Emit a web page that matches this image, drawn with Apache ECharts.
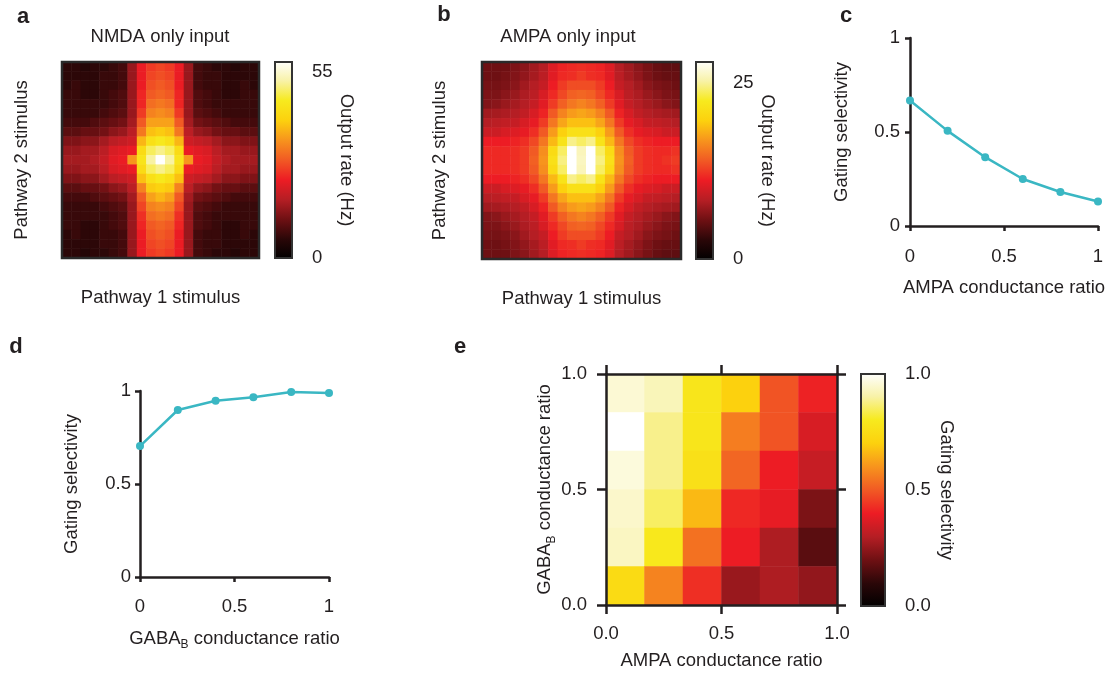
<!DOCTYPE html>
<html>
<head>
<meta charset="utf-8">
<script src="https://cdn.jsdelivr.net/npm/echarts@6/dist/echarts.min.js"></script>
<style>
  html, body { margin: 0; padding: 0; background: #fff; }
  #chart { width: 1112px; height: 678px; }
</style>
</head>
<body>
<div id="chart"></div>
<script>
// ---- data ----
// panel a: NMDA only input, output rate (Hz), rows top -> bottom (pathway 2), cols left -> right (pathway 1)
var nmdaRate = [
  [6,6,5,6,6,7,8,15,23,26,27,26,23,15,8,7,6,6,5,6,6],
  [6,6,6,6,7,7,8,15,23,27,28,27,23,15,8,7,7,6,6,6,6],
  [6,7,6,6,7,7,8,15,23,28,29,28,23,15,8,7,7,6,6,7,6],
  [7,7,6,6,7,8,9,15,24,29,30,29,24,15,9,8,7,6,6,7,7],
  [7,7,7,7,7,8,9,15,24,31,32,31,24,15,9,8,7,7,7,7,7],
  [7,7,7,7,8,9,10,15,26,33,34,33,26,15,10,9,8,7,7,7,7],
  [8,8,8,9,10,11,12,16,29,36,36,36,29,16,12,11,10,9,8,8,8],
  [10,10,11,11,12,14,15,18,32,39,40,39,32,18,15,14,12,11,11,10,10],
  [13,13,14,14,16,18,19,20,38,44,46,44,38,20,19,18,16,14,14,13,13],
  [15,15,16,16,18,21,22,23,43,49,51,49,43,23,22,21,18,16,16,15,15],
  [16,16,16,17,19,22,23,35,45,52,58,52,45,35,23,22,19,17,16,16,16],
  [15,15,16,16,18,21,22,23,43,49,51,49,43,23,22,21,18,16,16,15,15],
  [13,13,14,14,16,18,19,20,39,44,46,44,39,20,19,18,16,14,14,13,13],
  [10,10,11,11,12,14,15,18,33,40,41,40,33,18,15,14,12,11,11,10,10],
  [8,8,8,9,10,11,12,16,29,36,38,36,29,16,12,11,10,9,8,8,8],
  [7,7,7,7,8,9,10,15,27,33,34,33,27,15,10,9,8,7,7,7,7],
  [7,7,7,7,7,8,9,15,25,31,32,31,25,15,9,8,7,7,7,7,7],
  [7,7,6,6,7,8,9,15,24,29,30,29,24,15,9,8,7,6,6,7,7],
  [6,7,6,6,7,7,8,15,23,28,29,28,23,15,8,7,7,6,6,7,6],
  [6,6,6,6,7,7,8,15,23,27,28,27,23,15,8,7,7,6,6,6,6],
  [6,6,5,6,6,7,8,15,23,26,27,26,23,15,8,7,6,6,5,6,6]
];
// panel b: AMPA only input, output rate (Hz)
var ampaRate = [
  [5.6,5.6,5.6,6.2,6.7,7.6,8.4,10.4,11.5,11.8,12.0,11.8,11.5,10.4,8.4,7.6,6.7,6.0,5.3,5.0,5.0],
  [5.6,5.6,5.9,6.4,7.0,7.8,8.7,10.6,11.8,12.0,12.6,12.0,11.8,10.6,8.7,7.8,7.0,6.2,5.6,5.3,5.3],
  [5.9,5.9,6.2,6.7,7.6,8.4,9.2,11.2,12.6,13.4,13.4,13.4,12.6,11.2,9.2,8.4,7.6,6.7,6.2,5.9,5.6],
  [6.2,6.2,6.7,7.3,8.1,8.7,10.1,11.8,13.2,14.3,14.6,14.3,13.2,11.8,10.1,8.7,8.1,7.3,6.7,6.2,6.0],
  [6.4,6.7,7.3,7.8,8.4,9.2,10.6,12.6,14.3,15.4,16.0,15.4,14.3,12.6,10.6,9.2,8.4,7.8,7.3,6.7,6.4],
  [7.6,7.8,8.1,8.4,9.0,10.1,11.5,14.0,16.0,17.1,17.6,17.1,16.0,14.0,11.5,10.1,9.0,8.4,8.1,7.8,7.6],
  [8.4,8.7,9.0,9.2,10.1,10.9,12.6,15.4,17.6,18.8,18.8,18.8,17.6,15.4,12.6,10.9,10.1,9.2,9.0,8.7,8.4],
  [9.5,9.5,10.1,10.4,10.9,12.0,14.0,17.1,19.6,21.3,21.3,21.3,19.6,17.1,14.0,12.0,10.9,10.4,10.1,9.5,9.5],
  [11.2,11.2,11.2,11.5,12.0,13.2,15.4,18.5,21.6,24.6,23.8,24.6,21.6,18.5,15.4,13.2,12.0,11.5,11.2,11.2,11.2],
  [11.8,11.8,11.8,12.0,12.6,14.0,16.5,20.7,23.8,28.0,25.8,28.0,23.8,20.7,16.5,14.0,12.6,12.0,11.8,11.8,12.2],
  [11.8,11.8,11.8,12.0,12.6,14.3,16.8,21.3,24.4,28.0,26.0,28.0,24.4,21.3,16.8,14.3,12.6,12.0,11.8,12.2,12.6],
  [11.8,11.8,11.8,12.0,12.6,14.0,16.5,20.7,23.8,28.0,25.8,28.0,23.8,20.7,16.5,14.0,12.6,12.0,11.8,11.8,12.2],
  [11.2,11.2,11.2,11.5,12.0,13.2,15.4,18.5,21.6,24.6,23.8,24.6,21.6,18.5,15.4,13.2,12.0,11.5,11.2,11.2,11.2],
  [9.5,9.5,10.1,10.4,10.9,12.0,14.0,17.1,19.6,21.3,21.3,21.3,19.6,17.1,14.0,12.0,10.9,10.4,10.1,9.5,9.5],
  [8.4,8.7,9.0,9.2,10.1,10.9,12.6,15.4,17.6,18.8,18.8,18.8,17.6,15.4,12.6,10.9,10.1,9.2,9.0,8.7,8.4],
  [7.6,7.8,8.1,8.4,9.0,10.1,11.5,14.0,16.0,17.1,17.6,17.1,16.0,14.0,11.5,10.1,9.0,8.4,8.1,7.8,7.6],
  [6.4,6.7,7.3,7.8,8.4,9.2,10.6,12.6,14.3,15.4,16.0,15.4,14.3,12.6,10.6,9.2,8.4,7.8,7.3,6.7,6.4],
  [6.2,6.2,6.7,7.3,8.1,8.7,10.1,11.8,13.2,14.3,14.6,14.3,13.2,11.8,10.1,8.7,8.1,7.3,6.7,6.2,6.0],
  [5.9,5.9,6.2,6.7,7.6,8.4,9.2,11.2,12.6,13.4,13.4,13.4,12.6,11.2,9.2,8.4,7.6,6.7,6.2,5.9,5.6],
  [5.6,5.6,5.9,6.4,7.0,7.8,8.7,10.6,11.8,12.0,12.6,12.0,11.8,10.6,8.7,7.8,7.0,6.2,5.6,5.3,5.3],
  [5.6,5.6,5.6,6.2,6.7,7.6,8.4,10.4,11.5,11.8,12.0,11.8,11.5,10.4,8.4,7.6,6.7,6.0,5.3,5.0,5.0]
];
var stimSteps = ['1','2','3','4','5','6','7','8','9','10','11','12','13','14','15','16','17','18','19','20','21'];

// panels c, d
var ratioSteps = [0, 0.2, 0.4, 0.6, 0.8, 1];
var selectivityVsAmpa = [0.668, 0.506, 0.366, 0.250, 0.181, 0.130];
var selectivityVsGaba = [0.704, 0.898, 0.948, 0.966, 0.995, 0.989];

// panel e: gating selectivity, rows GABA_B 1.0 (top) -> 0.0 (bottom), cols AMPA 0 -> 1
var ampaCats = ['0', '0.2', '0.4', '0.6', '0.8', '1'];
var gabaCats = ['1', '0.8', '0.6', '0.4', '0.2', '0'];
var selectivityGrid = [
  [0.95, 0.92, 0.78, 0.70, 0.49, 0.41],
  [1.00, 0.88, 0.78, 0.56, 0.49, 0.36],
  [0.96, 0.88, 0.76, 0.52, 0.40, 0.33],
  [0.94, 0.85, 0.66, 0.42, 0.39, 0.22],
  [0.93, 0.79, 0.54, 0.40, 0.29, 0.17],
  [0.74, 0.57, 0.43, 0.26, 0.29, 0.25]
];

// colour map (black -> red -> yellow -> white)
var hotColors = ['#000000','#2a0708','#6e1013','#b51e24','#ed1c24','#f15a24','#f7941d','#fcd10e','#f7ea1e','#f8f2a8','#ffffff'];

function toCells(rows) {
  var out = [];
  rows.forEach(function (row, r) {
    row.forEach(function (v, c) { out.push([c, r, v]); });
  });
  return out;
}
function toPairs(xs, ys) {
  return xs.map(function (x, i) { return [x, ys[i]]; });
}

var ink = '#231f20';
var font = 'Liberation Sans, Arial, Helvetica, sans-serif';
var fs = 18.5;
var teal = '#3ab7c3';

var gabaName = '{n|GABA}{s|B}{n| conductance ratio}';
var gabaRich = {
  n: { fontSize: fs, fontFamily: font, color: ink, lineHeight: 24, verticalAlign: 'middle' },
  s: { fontSize: 12, fontFamily: font, color: ink, lineHeight: 12, verticalAlign: 'bottom' }
};

function nameStyle() { return { fontSize: fs, fontFamily: font, color: ink }; }
function labelStyle(extra) {
  var o = { fontSize: fs, fontFamily: font, color: ink };
  for (var k in extra) o[k] = extra[k];
  return o;
}
function hiddenCat(gridIndex, data, extra) {
  var o = {
    type: 'category', gridIndex: gridIndex, data: data,
    axisLine: { show: false }, axisTick: { show: false }, axisLabel: { show: false },
    splitLine: { show: false }
  };
  for (var k in extra) o[k] = extra[k];
  return o;
}
function lineAxis(gridIndex, extra) {
  var o = {
    type: 'value', gridIndex: gridIndex, min: 0, max: 1, interval: 0.5,
    axisLine: { show: true, onZero: false, lineStyle: { color: ink, width: 2.5 } },
    axisTick: { show: true, length: 5, lineStyle: { color: ink, width: 2.5 } },
    splitLine: { show: false },
    nameLocation: 'middle', nameTextStyle: nameStyle()
  };
  for (var k in extra) o[k] = extra[k];
  return o;
}
function barAxis(gridIndex, max, interval, name, gap, hideMax, fmt) {
  return {
    type: 'value', gridIndex: gridIndex, position: 'right', min: 0, max: max, interval: interval,
    axisLine: { show: false },
    axisTick: { show: true, length: 9, lineStyle: { color: ink, width: 2 } },
    axisLabel: labelStyle({ margin: 20, formatter: fmt, showMaxLabel: !hideMax }),
    splitLine: { show: false },
    name: name, nameLocation: 'middle', nameGap: gap, nameRotate: -90, nameTextStyle: nameStyle()
  };
}
function gradient() {
  return new echarts.graphic.LinearGradient(0, 1, 0, 0, hotColors.map(function (c, i) {
    return { offset: i / (hotColors.length - 1), color: c };
  }));
}
function txt(x, y, s, f) {
  return { type: 'text', x: x, y: y, z: 100,
    style: { text: s, font: f, fill: ink, textAlign: 'center', align: 'center', textVerticalAlign: 'middle', verticalAlign: 'middle' } };
}
function frame(x, y, w, h, stroke, lw, fill) {
  return { type: 'rect', z: 100, shape: { x: x, y: y, width: w, height: h },
    style: { fill: fill || 'none', stroke: stroke, lineWidth: lw } };
}

var dom = document.getElementById('chart');
var myChart = echarts.init(dom, null, { renderer: 'canvas' });

var eTick = { length: 9, lineStyle: { color: ink, width: 2.5 } };

var option = {
  backgroundColor: '#ffffff',
  animation: false,
  grid: [
    { left: 62, top: 62, width: 197, height: 196 },   // a
    { left: 482, top: 62, width: 199, height: 197 },  // b
    { left: 910, top: 38, width: 188, height: 188 },  // c
    { left: 140, top: 391, width: 189, height: 186 }, // d
    { left: 606, top: 374, width: 231, height: 231 }, // e cells
    { left: 606, top: 374, width: 231, height: 231 }, // e frame axes
    { left: 275, top: 62, width: 17, height: 196 },   // a colour bar
    { left: 696, top: 62, width: 17, height: 197 },   // b colour bar
    { left: 861, top: 374, width: 24, height: 232 }   // e colour bar
  ],
  xAxis: [
    hiddenCat(0, stimSteps, { name: 'Pathway 1 stimulus', nameLocation: 'middle', nameGap: 30, nameTextStyle: nameStyle() }),
    hiddenCat(1, stimSteps, { name: 'Pathway 1 stimulus', nameLocation: 'middle', nameGap: 30, nameTextStyle: nameStyle() }),
    lineAxis(2, { name: 'AMPA conductance ratio', nameGap: 52, axisLabel: labelStyle({ margin: 21 }) }),
    lineAxis(3, { name: gabaName, nameGap: 50, nameTextStyle: { rich: gabaRich }, axisLabel: labelStyle({ margin: 20 }) }),
    { type: 'category', gridIndex: 4, data: ampaCats, show: false },
    lineAxis(5, { position: 'bottom', z: 10, axisTick: eTick,
      name: 'AMPA conductance ratio', nameGap: 46,
      axisLabel: labelStyle({ margin: 19, formatter: function (v) { return v.toFixed(1); } }) }),
    lineAxis(5, { position: 'top', z: 10, axisTick: eTick, axisLabel: { show: false } }),
    { type: 'value', gridIndex: 6, show: false },
    { type: 'value', gridIndex: 7, show: false },
    { type: 'value', gridIndex: 8, show: false }
  ],
  yAxis: [
    hiddenCat(0, stimSteps, { inverse: true, name: 'Pathway 2 stimulus', nameLocation: 'middle', nameGap: 31, nameTextStyle: nameStyle() }),
    hiddenCat(1, stimSteps, { inverse: true, name: 'Pathway 2 stimulus', nameLocation: 'middle', nameGap: 33, nameTextStyle: nameStyle() }),
    lineAxis(2, { name: 'Gating selectivity', nameGap: 59, axisLabel: labelStyle({ margin: 10 }) }),
    lineAxis(3, { name: 'Gating selectivity', nameGap: 59, axisLabel: labelStyle({ margin: 9 }) }),
    { type: 'category', gridIndex: 4, data: gabaCats, inverse: true, show: false },
    lineAxis(5, { position: 'left', z: 10, axisTick: eTick,
      name: gabaName, nameGap: 48, nameTextStyle: { rich: gabaRich },
      axisLabel: labelStyle({ margin: 19, formatter: function (v) { return v.toFixed(1); } }) }),
    lineAxis(5, { position: 'right', z: 10, axisTick: eTick, axisLabel: { show: false } }),
    barAxis(6, 58, 55, 'Output rate (Hz)', 30, true),
    barAxis(7, 28, 25, 'Output rate (Hz)', 40, true),
    barAxis(8, 1, 0.5, 'Gating selectivity', 52, false, function (v) { return v.toFixed(1); })
  ],
  visualMap: [
    { type: 'continuous', show: false, seriesIndex: 0, min: 0, max: 58, inRange: { color: hotColors } },
    { type: 'continuous', show: false, seriesIndex: 1, min: 0, max: 28, inRange: { color: hotColors } },
    { type: 'continuous', show: false, seriesIndex: 4, min: 0, max: 1, inRange: { color: hotColors } }
  ],
  series: [
    { type: 'heatmap', xAxisIndex: 0, yAxisIndex: 0, data: toCells(nmdaRate), itemStyle: { borderWidth: 0 } },
    { type: 'heatmap', xAxisIndex: 1, yAxisIndex: 1, data: toCells(ampaRate), itemStyle: { borderWidth: 0 } },
    { type: 'line', xAxisIndex: 2, yAxisIndex: 2, data: toPairs(ratioSteps, selectivityVsAmpa),
      symbol: 'circle', symbolSize: 8, lineStyle: { color: teal, width: 2.5 }, itemStyle: { color: teal } },
    { type: 'line', xAxisIndex: 3, yAxisIndex: 3, data: toPairs(ratioSteps, selectivityVsGaba),
      symbol: 'circle', symbolSize: 8, lineStyle: { color: teal, width: 2.5 }, itemStyle: { color: teal } },
    { type: 'heatmap', xAxisIndex: 4, yAxisIndex: 4, data: toCells(selectivityGrid), itemStyle: { borderWidth: 0 } }
  ],
  graphic: [
    frame(62, 62, 197, 196, '#2a2a2a', 2.5),
    frame(482, 62, 199, 197, '#2a2a2a', 2.5),
    frame(275, 62, 17, 196, '#333333', 2, gradient()),
    frame(696, 62, 17, 197, '#333333', 2, gradient()),
    frame(861, 374, 24, 232, '#333333', 2, gradient()),
    txt(160, 37, 'NMDA only input', fs + 'px ' + font),
    txt(568, 37, 'AMPA only input', fs + 'px ' + font),
    txt(23, 17, 'a', 'bold 22px ' + font),
    txt(444, 15, 'b', 'bold 22px ' + font),
    txt(846, 16, 'c', 'bold 22px ' + font),
    txt(16, 347, 'd', 'bold 22px ' + font),
    txt(460, 347, 'e', 'bold 22px ' + font)
  ]
};

if (option && typeof option === 'object') {
  myChart.setOption(option, true);
}
</script>
</body>
</html>
